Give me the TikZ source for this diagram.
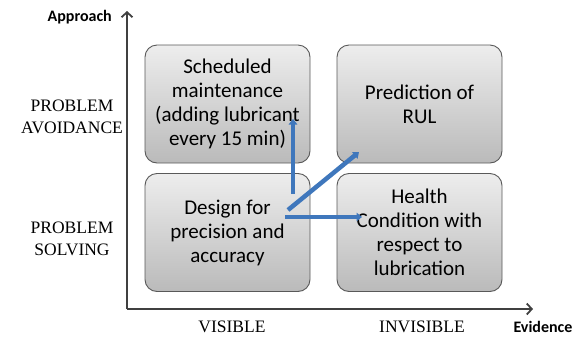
\documentclass[tikz,border=0pt]{standalone}
\usepackage{fontspec}
\setmainfont{Liberation Serif}
\newfontfamily\boxfont{Carlito}
\usetikzlibrary{arrows.meta,shadows}
\definecolor{axisgray}{HTML}{404040}
\definecolor{arrowblue}{HTML}{3F77BC}
\tikzset{
  quadbox/.style={draw=black!65, line width=0.9pt, rounded corners=12pt,
    top color=black!7, bottom color=black!27, minimum width=165pt, minimum height=118pt,
    align=center, font=\boxfont\fontsize{21}{24}\selectfont, inner sep=0pt},
  axislabel/.style={font=\fontsize{17.5}{22}\selectfont, align=center, inner sep=0pt},
  axistitle/.style={font=\boxfont\bfseries\fontsize{16}{18}\selectfont, inner sep=0pt},
  axisline/.style={draw=axisgray, line width=1.8pt, -{Straight Barb[length=5pt,width=11pt,line width=1.8pt]}},
  bluearrow/.style={draw=arrowblue, line width=4.5pt, -{Triangle[width=8.5pt,length=5.5pt]}}
}
\begin{document}
\begin{tikzpicture}[x=1pt,y=-1pt]
\useasboundingbox (0,0) rectangle (579,338);
% axes
\coordinate (origin) at (127,309);
\coordinate (ytip) at (127,11);
\coordinate (xtip) at (533,309);
\draw[axisline] (origin) -- (ytip);
\draw[axisline] (origin) -- (xtip);
\node[axistitle, anchor=east] (approach) at (112,17) {Approach};
\node[axistitle] (evidence) at (543,327) {Evidence};
% axis labels
\node[axislabel] (avoid) at (72,117) {PROBLEM\\AVOIDANCE};
\node[axislabel] (solve) at (72,239) {PROBLEM\\SOLVING};
\node[axislabel] (visible) at (232,327) {VISIBLE};
\node[axislabel] (invisible) at (422,327) {INVISIBLE};
% boxes
\node[quadbox] (sched) at (227.5,104) {Scheduled\\maintenance\\(adding lubricant\\every 15 min)};
\node[quadbox] (pred) at (419.5,104) {Prediction of\\RUL};
\node[quadbox] (design) at (227.5,232.5) {Design for\\precision and\\accuracy};
\node[quadbox] (health) at (419.5,232.5) {Health\\Condition with\\respect to\\lubrication};
% arrows
\coordinate (s1) at (293,194);
\coordinate (e1) at (293,119);
\coordinate (s2) at (288,210);
\coordinate (e2) at (359,152);
\coordinate (s3) at (285,217);
\coordinate (e3) at (362,217);
\draw[bluearrow] (s1) -- (e1);
\draw[bluearrow] (s2) -- (e2);
\draw[bluearrow] (s3) -- (e3);
\end{tikzpicture}
\end{document}
